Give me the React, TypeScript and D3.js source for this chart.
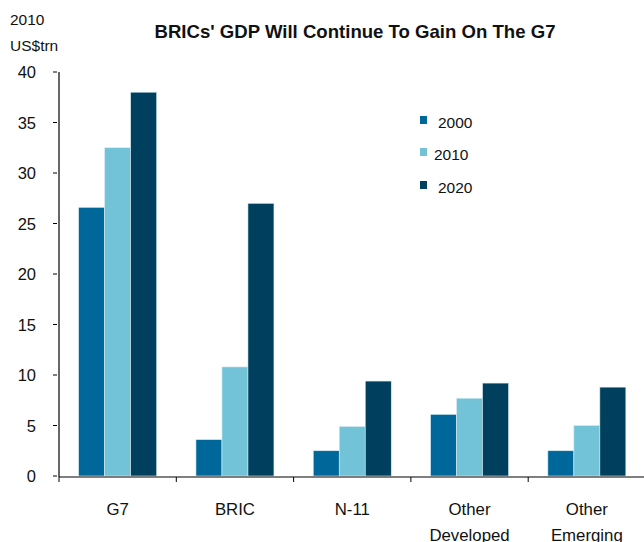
import React from "react";
import * as d3 from "d3";

const categories = ["G7", "BRIC", "N-11", "Other Developed", "Other Emerging"];
const categoryLines = [["G7"], ["BRIC"], ["N-11"], ["Other", "Developed"], ["Other", "Emerging"]];
const seriesNames = ["2000", "2010", "2020"];
const values2000 = [26.6, 3.6, 2.5, 6.1, 2.5];
const values2010 = [32.5, 10.8, 4.9, 7.7, 5.0];
const values2020 = [38.0, 27.0, 9.4, 9.2, 8.8];
const seriesValues = [values2000, values2010, values2020];
const colors = ["#00679a", "#72c3d8", "#00405f"];
const yTicks = [0, 5, 10, 15, 20, 25, 30, 35, 40];

const W = 644;
const H = 542;
const FONT = "'Liberation Sans', Arial, Helvetica, sans-serif";

export default function App() {
  const x0 = 59;
  const band = 117.3;
  const x = d3
    .scaleBand<string>()
    .domain(categories)
    .range([x0, x0 + band * categories.length])
    .paddingInner(0.335)
    .paddingOuter(0.1675);
  const xs = d3.scaleBand<string>().domain(seriesNames).range([0, x.bandwidth()]);
  const y = d3.scaleLinear().domain([0, 40]).range([476, 72]);

  const legendItems = [
    { sx: 420, sy: 116, tx: 438, ty: 128 },
    { sx: 420, sy: 148, tx: 434, ty: 160 },
    { sx: 420, sy: 181, tx: 438, ty: 193 },
  ];

  return (
    <svg
      width={W}
      height={H}
      style={{ position: "absolute", left: 0, top: 0, background: "#fff" }}
      fontFamily={FONT}
    >
      <rect x={0} y={0} width={W} height={H} fill="#fff" />
      <text
        x={355}
        y={38}
        textAnchor="middle"
        fontSize={18.5}
        fontWeight="bold"
        fill="#111"
        textLength={401}
        lengthAdjust="spacingAndGlyphs"
      >
        BRICs' GDP Will Continue To Gain On The G7
      </text>
      <text x={10} y={25} fontSize={15.5} fill="#111">2010</text>
      <text x={10} y={51} fontSize={15.5} fill="#111">US$trn</text>

      {seriesValues.map((vals, si) =>
        vals.map((v, ci) => (
          <rect
            key={`${si}-${ci}`}
            x={(x(categories[ci]) as number) + (xs(seriesNames[si]) as number)}
            y={y(v)}
            width={xs.bandwidth()}
            height={y(0) - y(v)}
            fill={colors[si]}
            stroke="#d8ecf2"
            strokeWidth={0.6}
          />
        ))
      )}

      {/* y axis */}
      <line x1={59} x2={59} y1={y(40)} y2={477} stroke="#000" strokeWidth={1.2} />
      {yTicks.map((t) => (
        <g key={t}>
          <line x1={53} x2={57} y1={y(t)} y2={y(t)} stroke="#000" strokeWidth={1} />
          <text x={36} y={y(t) + 6} textAnchor="end" fontSize={16.5} fill="#111">
            {t}
          </text>
        </g>
      ))}

      {/* x axis */}
      <line x1={59} x2={W} y1={477} y2={477} stroke="#000" strokeWidth={1.2} />
      {categories.map((c, i) => (
        <line
          key={c}
          x1={x0 + band * i}
          x2={x0 + band * i}
          y1={477}
          y2={482}
          stroke="#000"
          strokeWidth={1}
        />
      ))}
      {categories.map((c, i) => {
        const cx = (x(c) as number) + x.bandwidth() / 2;
        return (
          <text key={c} textAnchor="middle" fontSize={16.8} fill="#111">
            {categoryLines[i].map((ln, li) => (
              <tspan key={li} x={cx} y={515 + li * 26}>
                {ln}
              </tspan>
            ))}
          </text>
        );
      })}

      {/* legend */}
      {seriesNames.map((s, i) => (
        <g key={s}>
          <rect x={legendItems[i].sx} y={legendItems[i].sy} width={7} height={8} fill={colors[i]} />
          <text x={legendItems[i].tx} y={legendItems[i].ty} fontSize={15.5} fill="#111">
            {s}
          </text>
        </g>
      ))}
    </svg>
  );
}
